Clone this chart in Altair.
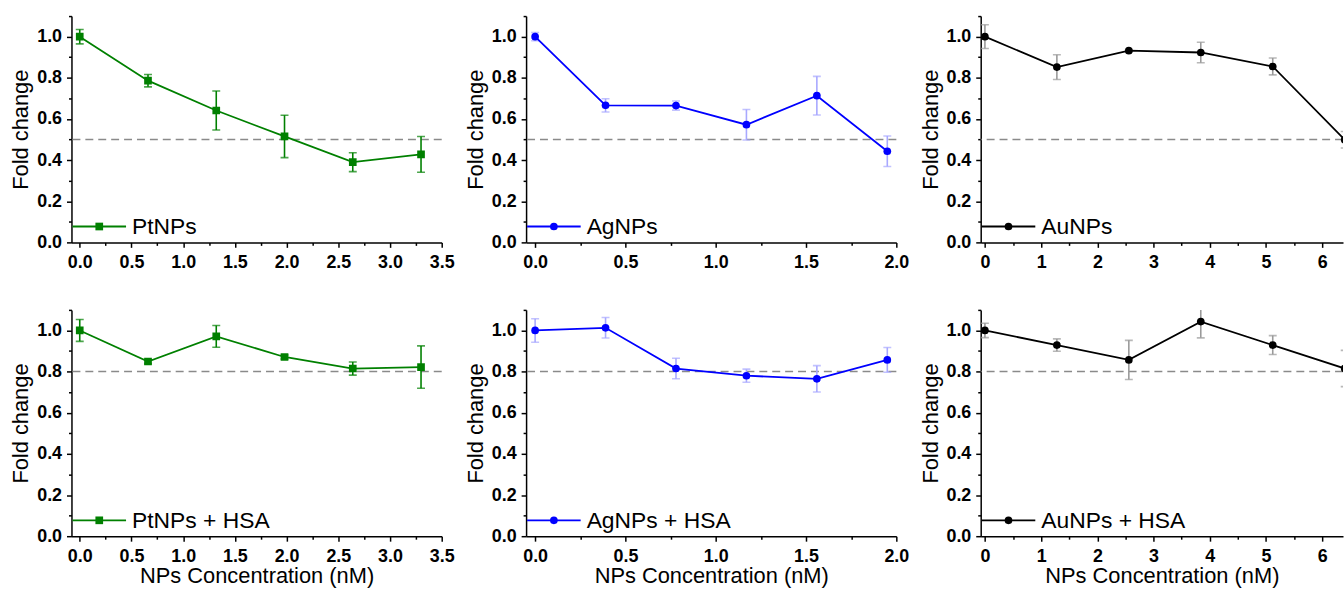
import altair as alt
import pandas as pd

FONT = "Liberation Sans"

# ---------------- data ----------------
pt_x = [0, 0.66, 1.32, 1.98, 2.64, 3.30]
ag_x = [0, 0.39, 0.78, 1.17, 1.56, 1.95]
au_x = [0, 1.28, 2.56, 3.84, 5.12, 6.40]

pt_y = [1.0, 0.786, 0.641, 0.515, 0.390, 0.428]
pt_err = [0.035, 0.030, 0.095, 0.103, 0.046, 0.087]
ag_y = [1.0, 0.666, 0.665, 0.572, 0.713, 0.443]
ag_err = [0.020, 0.032, 0.022, 0.074, 0.094, 0.074]
au_y = [1.0, 0.852, 0.932, 0.923, 0.855, 0.499]
au_err = [0.058, 0.060, 0.005, 0.050, 0.041, 0.040]

pth_y = [1.0, 0.849, 0.971, 0.871, 0.815, 0.822]
pth_err = [0.053, 0.010, 0.053, 0.010, 0.032, 0.103]
agh_y = [1.0, 1.013, 0.815, 0.780, 0.765, 0.857]
agh_err = [0.057, 0.050, 0.050, 0.032, 0.064, 0.060]
auh_y = [1.0, 0.929, 0.857, 1.043, 0.929, 0.815]
auh_err = [0.035, 0.030, 0.095, 0.079, 0.046, 0.088]

labels_top = ["PtNPs", "AgNPs", "AuNPs"]
labels_bot = ["PtNPs + HSA", "AgNPs + HSA", "AuNPs + HSA"]
thresholds = [0.5, 0.8]

GREEN = "#008000"
BLUE = "#0000ff"
BLACK = "#000000"

PANEL_H = 228
Y_TICKS = [round(i * 0.1, 2) for i in range(12)]
Y_MAJOR = "abs(datum.value*5 - round(datum.value*5)) < 0.001"


def make_panel(xs, ys, errs, color, err_color, shape, label, thresh,
               xdom, xticks, major_test, xfmt, width, show_xtitle):
    df = pd.DataFrame({"x": xs, "y": ys,
                       "lo": [y - e for y, e in zip(ys, errs)],
                       "hi": [y + e for y, e in zip(ys, errs)]})
    caps = pd.DataFrame({"x": xs + xs,
                         "c": [y - e for y, e in zip(ys, errs)] + [y + e for y, e in zip(ys, errs)]})

    xscale = alt.Scale(domain=xdom, nice=False, zero=False)
    yscale = alt.Scale(domain=[0, 1.1], nice=False, zero=False)
    xaxis = alt.Axis(values=xticks, labelOverlap=False, labelFlush=False,
                     labelExpr=f"{major_test} ? format(datum.value, '{xfmt}') : ''",
                     tickSize={"condition": {"test": major_test, "value": 5}, "value": 3},
                     labelPadding=6, titlePadding=1)
    yaxis = alt.Axis(values=Y_TICKS, labelOverlap=False, labelFlush=False,
                     labelExpr=f"{Y_MAJOR} ? format(datum.value, '.1f') : ''",
                     tickSize={"condition": {"test": Y_MAJOR, "value": 5}, "value": 3},
                     labelPadding=5, titlePadding=4)
    xtitle = "NPs Concentration (nM)" if show_xtitle else None

    def X(field):
        return alt.X(field, scale=xscale, axis=xaxis, title=xtitle)

    def Y(field):
        return alt.Y(field, scale=yscale, axis=yaxis, title="Fold change")

    base = alt.Chart(df)
    ref = alt.Chart(pd.DataFrame({"t": [thresh]})).mark_rule(
        color="#8a8a8a", strokeDash=[8, 5], strokeWidth=1.5).encode(y=Y("t:Q"))
    bars = base.mark_rule(color=err_color, strokeWidth=1.6, clip=True).encode(
        x=X("x:Q"), y=Y("lo:Q"), y2="hi:Q")
    capm = alt.Chart(caps).mark_tick(color=err_color, orient="horizontal", size=8,
                                     thickness=1.6, clip=True).encode(x=X("x:Q"), y=Y("c:Q"))
    line = base.mark_line(color=color, strokeWidth=1.8, clip=True).encode(x=X("x:Q"), y=Y("y:Q"))
    pts = base.mark_point(color=color, filled=True, shape=shape, size=60, opacity=1,
                          clip=True).encode(x=X("x:Q"), y=Y("y:Q"))

    leg = alt.Chart(pd.DataFrame({"label": [label]}))
    leg_line = leg.mark_rule(color=color, strokeWidth=1.8).encode(
        x=alt.value(1), x2=alt.value(55), y=alt.value(212))
    leg_pt = leg.mark_point(color=color, filled=True, shape=shape, size=60, opacity=1).encode(
        x=alt.value(28), y=alt.value(212))
    leg_txt = leg.mark_text(align="left", baseline="middle", font=FONT, fontSize=23,
                            color="black").encode(x=alt.value(61), y=alt.value(213), text="label:N")

    return alt.layer(ref, bars, capm, line, pts, leg_line, leg_pt, leg_txt).properties(
        width=width, height=PANEL_H)


pt_ticks = [round(i * 0.25, 2) for i in range(15)]
ag_ticks = [round(i * 0.25, 2) for i in range(9)]
au_ticks = [round(i * 0.5, 2) for i in range(13)]
T05 = "abs(datum.value*2 - round(datum.value*2)) < 0.001"
T1 = "abs(datum.value - round(datum.value)) < 0.001"

row1 = alt.hconcat(
    make_panel(pt_x, pt_y, pt_err, GREEN, GREEN, "square", labels_top[0], thresholds[0],
               [-0.08, 3.5], pt_ticks, T05, ".1f", 373, False),
    make_panel(ag_x, ag_y, ag_err, BLUE, "#a8a8ff", "circle", labels_top[1], thresholds[0],
               [-0.05, 2.0], ag_ticks, T05, ".1f", 373, False),
    make_panel(au_x, au_y, au_err, BLACK, "#9a9a9a", "circle", labels_top[2], thresholds[0],
               [-0.075, 6.37], au_ticks, T1, "d", 365, False),
    spacing=9)

row2 = alt.hconcat(
    make_panel(pt_x, pth_y, pth_err, GREEN, GREEN, "square", labels_bot[0], thresholds[1],
               [-0.08, 3.5], pt_ticks, T05, ".1f", 373, True),
    make_panel(ag_x, agh_y, agh_err, BLUE, "#a8a8ff", "circle", labels_bot[1], thresholds[1],
               [-0.05, 2.0], ag_ticks, T05, ".1f", 373, True),
    make_panel(au_x, auh_y, auh_err, BLACK, "#9a9a9a", "circle", labels_bot[2], thresholds[1],
               [-0.075, 6.37], au_ticks, T1, "d", 365, True),
    spacing=9)

chart = alt.vconcat(row1, row2, spacing=30).properties(
    padding={"left": 9, "top": 5, "right": 0, "bottom": 0},
    background="white",
).configure_axis(
    domainColor="black", domainWidth=1.5, tickColor="black", tickWidth=1.5,
    labelFont=FONT, labelFontWeight="bold", labelFontSize=18, labelColor="black",
    titleFont=FONT, titleFontSize=22, titleFontWeight="normal", titleColor="black",
    grid=False,
).configure_view(stroke=None)

chart.save("out.html", embed_options={"renderer": "svg", "actions": False})
